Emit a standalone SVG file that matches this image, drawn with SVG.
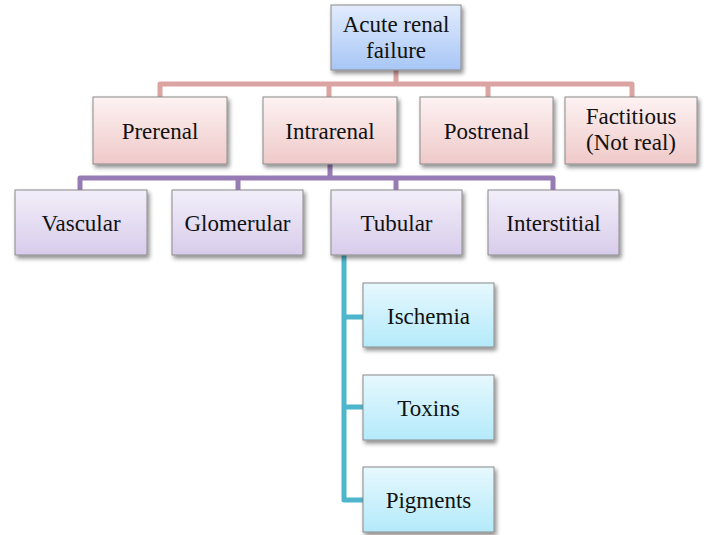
<svg xmlns="http://www.w3.org/2000/svg" width="708" height="535" viewBox="0 0 708 535">
<style>
text{font-family:'Liberation Serif','Times New Roman','DejaVu Serif',serif;font-size:23px;fill:#111;text-anchor:middle}
.box{stroke:#8a8a8a;stroke-width:1;filter:url(#sh)}
.c{fill:none;stroke-width:5;stroke-linejoin:round}
</style>
<defs>
<filter id="sh" x="-10%" y="-10%" width="125%" height="135%"><feDropShadow dx="2" dy="3" stdDeviation="2" flood-color="#000" flood-opacity="0.45"/></filter>
<linearGradient id="gb" x1="0" y1="0" x2="0" y2="1"><stop offset="0" stop-color="#e2ecfd"/><stop offset="1" stop-color="#a8c6f6"/></linearGradient>
<linearGradient id="gp" x1="0" y1="0" x2="0" y2="1"><stop offset="0" stop-color="#fdf2f2"/><stop offset="1" stop-color="#efc9c9"/></linearGradient>
<linearGradient id="gv" x1="0" y1="0" x2="0" y2="1"><stop offset="0" stop-color="#f2eef9"/><stop offset="1" stop-color="#d8cceb"/></linearGradient>
<linearGradient id="gc" x1="0" y1="0" x2="0" y2="1"><stop offset="0" stop-color="#e6f8fe"/><stop offset="1" stop-color="#b4eafa"/></linearGradient>
</defs>
<g id="connectors">
<path class="c" stroke="#dca3a3" d="M396 70V84M160 97V84H632V97M329 84V97M488 84V97"/>
<path class="c" stroke="#977bb5" d="M330 164V178M80 190V178H553V190M238 178V190M396 178V190"/>
<path class="c" stroke="#4db6cc" d="M344 255V500H363M344 317H363M344 407H363"/>
</g>
<g id="acute"><rect class="box" x="331" y="5" width="130" height="65" fill="url(#gb)"/><text x="396" y="32" font-family="Liberation Serif, serif">Acute renal</text><text x="396" y="58" font-family="Liberation Serif, serif">failure</text></g>
<g id="prerenal"><rect class="box" x="93" y="97" width="134" height="67" fill="url(#gp)"/><text x="160" y="139">Prerenal</text></g>
<g id="intrarenal"><rect class="box" x="263" y="97" width="134" height="67" fill="url(#gp)"/><text x="330" y="139">Intrarenal</text></g>
<g id="postrenal"><rect class="box" x="420" y="97" width="133" height="67" fill="url(#gp)"/><text x="486.5" y="139">Postrenal</text></g>
<g id="factitious"><rect class="box" x="565" y="97" width="132" height="67" fill="url(#gp)"/><text x="631" y="124">Factitious</text><text x="631" y="150">(Not real)</text></g>
<g id="vascular"><rect class="box" x="15" y="190" width="132" height="65" fill="url(#gv)"/><text x="81" y="231">Vascular</text></g>
<g id="glomerular"><rect class="box" x="172" y="190" width="131" height="65" fill="url(#gv)"/><text x="237.5" y="231">Glomerular</text></g>
<g id="tubular"><rect class="box" x="331" y="190" width="131" height="65" fill="url(#gv)"/><text x="396.5" y="231">Tubular</text></g>
<g id="interstitial"><rect class="box" x="488" y="190" width="131" height="65" fill="url(#gv)"/><text x="553.5" y="231">Interstitial</text></g>
<g id="ischemia"><rect class="box" x="363" y="283" width="131" height="64" fill="url(#gc)"/><text x="428.5" y="324">Ischemia</text></g>
<g id="toxins"><rect class="box" x="363" y="375" width="131" height="65" fill="url(#gc)"/><text x="428.5" y="416">Toxins</text></g>
<g id="pigments"><rect class="box" x="363" y="467" width="131" height="65" fill="url(#gc)"/><text x="428.5" y="508">Pigments</text></g>
</svg>
